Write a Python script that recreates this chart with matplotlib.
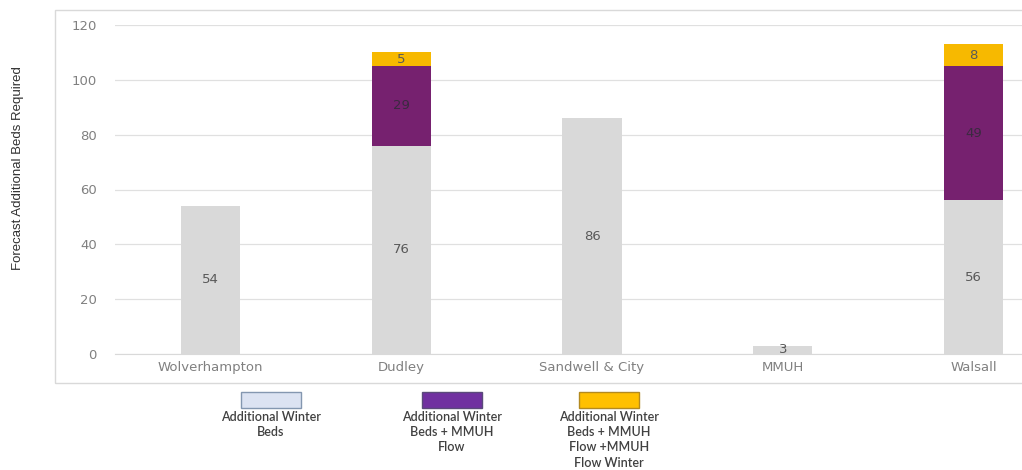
import matplotlib
matplotlib.use("Agg")
import matplotlib.pyplot as plt
from matplotlib.patches import Rectangle
import numpy as np

categories = ["Wolverhampton", "Dudley", "Sandwell & City", "MMUH", "Walsall"]
winter_beds = [54, 76, 86, 3, 56]
mmuh_flow = [0, 29, 0, 0, 49]
mmuh_flow_winter = [0, 5, 0, 0, 8]

series_names = [
    "Additional Winter\nBeds",
    "Additional Winter\nBeds + MMUH\nFlow",
    "Additional Winter\nBeds + MMUH\nFlow +MMUH\nFlow Winter",
]
bar_colors = ["#d9d9d9", "#76216f", "#f7b900"]
legend_fill = ["#dce3f2", "#7030a0", "#ffc000"]
legend_edge = ["#8497b0", "#5a4a7a", "#b38a20"]

W, H = 1022, 470
fig = plt.figure(figsize=(W / 100, H / 100), dpi=100)
fig.patch.set_facecolor("white")

# outer chart frame
frame = Rectangle((55 / W, 1 - 383 / H), 1.2, (383 - 10) / H, transform=fig.transFigure,
                  fill=False, edgecolor="#d9d9d9", linewidth=1.0)
fig.add_artist(frame)

ax = fig.add_axes([115 / W, 1 - 354 / H, (1069 - 115) / W, (354 - 25) / H])
x = np.arange(len(categories))
width = 0.31

stacks = [winter_beds, mmuh_flow, mmuh_flow_winter]
label_colors = ["#595959", "#3a2a40", "#595959"]
bottom = np.zeros(len(categories))
for vals, col, lc in zip(stacks, bar_colors, label_colors):
    vals = np.array(vals, dtype=float)
    bars = ax.bar(x, vals, width, bottom=bottom, color=col, zorder=3)
    for b, v, bt in zip(bars, vals, bottom):
        if v > 0:
            ax.text(b.get_x() + b.get_width() / 2, bt + v / 2, f"{int(v)}",
                    ha="center", va="center", fontsize=9.5, color=lc, zorder=4)
    bottom += vals

ax.set_xlim(-0.5, len(categories) - 0.5)
ax.set_ylim(0, 120)
ax.set_yticks(np.arange(0, 121, 20))
ax.yaxis.grid(True, color="#e0e0e0", linewidth=0.9, zorder=0)
ax.set_axisbelow(True)
for s in ["top", "right", "left"]:
    ax.spines[s].set_visible(False)
ax.spines["bottom"].set_color("#d9d9d9")
ax.tick_params(axis="both", length=0, labelsize=9.5, colors="#808080")
ax.tick_params(axis="y", pad=13)
ax.tick_params(axis="x", pad=5)
ax.set_xticks(x)
ax.set_xticklabels(categories)

fig.text(18 / W, 1 - 168 / H, "Forecast Additional Beds Required", rotation=90,
         ha="center", va="center", fontsize=9.5,
         family=["Liberation Sans", "DejaVu Sans"], color="#303030")

# legend below the chart
centers = [271, 452, 609]
for cx, name, fc, ec in zip(centers, series_names, legend_fill, legend_edge):
    fig.add_artist(Rectangle(((cx - 30) / W, 1 - 408 / H), 60 / W, 16 / H,
                             transform=fig.transFigure, facecolor=fc,
                             edgecolor=ec, linewidth=1.0))
    fig.text(cx / W, 1 - 411 / H, name, ha="center", va="top", fontsize=9,
             family=["Lato", "DejaVu Sans"], weight="semibold", color="#404040",
             linespacing=1.32)

fig.savefig("out.png", dpi=100)
